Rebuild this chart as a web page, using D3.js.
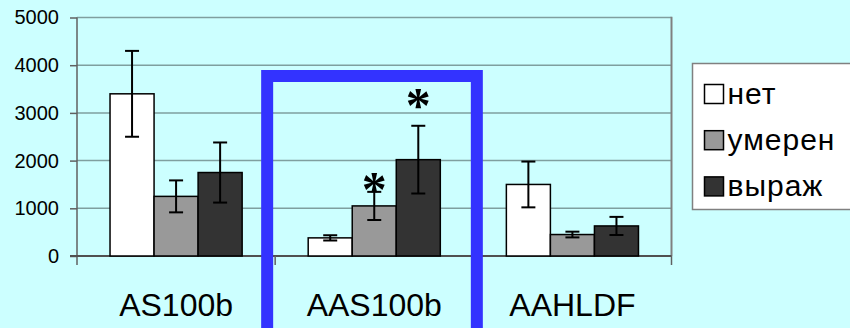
<!DOCTYPE html>
<html>
<head>
<meta charset="utf-8">
<script src="https://cdn.jsdelivr.net/npm/d3@7"></script>
<style>
  html, body { margin: 0; padding: 0; background: #CCFFFF; }
  svg { display: block; font-family: "Liberation Sans", Arial, sans-serif; }
</style>
</head>
<body>
<svg id="chart" width="850" height="328"></svg>
<script>
// Groups along the category axis
const categories = ["AS100b", "AAS100b", "AAHLDF"];
// Series names (legend order)
const seriesNames = ["нет", "умерен", "выраж"];
// Mean values per series, one entry per category
const netValues    = [3400, 380, 1500];
const umerenValues = [1250, 1050, 450];
const vyrazhValues = [1750, 2020, 630];
// Error half-widths per series
const netErrors    = [900, 55, 480];
const umerenErrors = [335, 295, 60];
const vyrazhErrors = [630, 710, 190];
// Y axis ticks
const yTicks = [0, 1000, 2000, 3000, 4000, 5000];
// Significance marks: category, series index, level in data units
const markCategory = ["AAS100b", "AAS100b"];
const markSeries   = [1, 2];
const markLevel    = [1570, 3320];

const seriesValues = [netValues, umerenValues, vyrazhValues];
const seriesErrors = [netErrors, umerenErrors, vyrazhErrors];
const fills = ["#FFFFFF", "#999999", "#333333"];

const svg = d3.select("#chart");
const plot = { left: 77, right: 671.5, top: 17.5, bottom: 256 };

const y = d3.scaleLinear().domain([0, 5000]).range([plot.bottom, plot.top]);
const x0 = d3.scaleBand().domain(categories).range([plot.left, plot.right]).padding(0);
const x1 = d3.scaleBand().domain(d3.range(seriesNames.length))
  .range([0, x0.bandwidth()]).paddingInner(0).paddingOuter(0.75);

// Plot-area background
svg.append("rect")
  .attr("x", plot.left).attr("y", plot.top)
  .attr("width", plot.right - plot.left).attr("height", plot.bottom - plot.top)
  .attr("fill", "#CCFFFF");

// Horizontal gridlines
svg.append("g").selectAll("line").data(yTicks.filter(d => d > 0)).join("line")
  .attr("x1", plot.left).attr("x2", plot.right)
  .attr("y1", d => y(d)).attr("y2", d => y(d))
  .attr("stroke", "#7f9f9f").attr("stroke-width", 1.5);

// Right edge of plot area
svg.append("line")
  .attr("x1", plot.right).attr("x2", plot.right)
  .attr("y1", plot.top - 0.75).attr("y2", plot.bottom)
  .attr("stroke", "#808080").attr("stroke-width", 2);

// Y axis
const yAxis = d3.axisLeft(y).tickValues(yTicks).tickSize(7).tickPadding(11).tickFormat(d3.format("d"));
const gy = svg.append("g").attr("transform", `translate(${plot.left},0)`).call(yAxis);
gy.select(".domain").attr("stroke", "#606060").attr("stroke-width", 1.5)
  .attr("d", `M0,${plot.top}V${plot.bottom + 9}`);
gy.selectAll(".tick line").attr("stroke", "#606060").attr("stroke-width", 1.5);
gy.selectAll(".tick text").attr("font-size", 20).attr("fill", "#000")
  .attr("font-family", "'Liberation Sans', Arial, sans-serif");

// Category axis with ticks at group boundaries
const xAxis = d3.axisBottom(x0).tickSize(0).tickPadding(37);
const gx = svg.append("g").attr("transform", `translate(0,${plot.bottom})`).call(xAxis);
gx.select(".domain").attr("stroke", "#505050").attr("stroke-width", 2)
  .attr("d", `M${plot.left - 7},0H${plot.right}`);
gx.selectAll(".tick text").attr("font-size", 32).attr("fill", "#000")
  .attr("font-family", "'Liberation Sans', Arial, sans-serif");
const boundaries = categories.slice(1).map(c => x0(c)).concat([plot.right]);
gx.append("g").selectAll("line").data(boundaries).join("line")
  .attr("x1", d => d).attr("x2", d => d).attr("y1", 0).attr("y2", 9)
  .attr("stroke", "#606060").attr("stroke-width", 1.5);

// Bars
const bars = [];
categories.forEach((c, ci) => {
  seriesNames.forEach((s, si) => {
    bars.push({ c, si, v: seriesValues[si][ci], e: seriesErrors[si][ci] });
  });
});
const gb = svg.append("g");
gb.selectAll("rect").data(bars).join("rect")
  .attr("x", d => x0(d.c) + x1(d.si))
  .attr("y", d => y(d.v))
  .attr("width", x1.bandwidth())
  .attr("height", d => y(0) - y(d.v))
  .attr("fill", d => fills[d.si])
  .attr("stroke", "#000").attr("stroke-width", 1.5);

// Error bars
const capW = 14;
const ge = svg.append("g").attr("stroke", "#000").attr("stroke-width", 2);
bars.forEach(d => {
  const cx = x0(d.c) + x1(d.si) + x1.bandwidth() / 2;
  const hi = y(d.v + d.e), lo = y(d.v - d.e);
  ge.append("line").attr("x1", cx).attr("x2", cx).attr("y1", hi).attr("y2", lo);
  ge.append("line").attr("x1", cx - capW / 2).attr("x2", cx + capW / 2).attr("y1", hi).attr("y2", hi);
  ge.append("line").attr("x1", cx - capW / 2).attr("x2", cx + capW / 2).attr("y1", lo).attr("y2", lo);
});

// Significance asterisks
svg.append("g").selectAll("text").data(markCategory.map((c, i) => ({ c, si: markSeries[i], lv: markLevel[i] })))
  .join("text")
  .attr("x", d => x0(d.c) + x1(d.si) + x1.bandwidth() / 2)
  .attr("y", d => y(d.lv) + 24.5)
  .attr("text-anchor", "middle")
  .attr("font-family", "'Liberation Serif', 'Times New Roman', serif")
  .attr("font-weight", "bold")
  .attr("font-size", 50)
  .attr("fill", "#000")
  .text("*");

// Highlight frame around the middle group
const mid = categories[1];
svg.append("rect")
  .attr("x", x0(mid) - 8).attr("y", 76)
  .attr("width", x0.bandwidth() + 11.5).attr("height", 280)
  .attr("fill", "none").attr("stroke", "#3333FF").attr("stroke-width", 12);

// Legend
const lg = svg.append("g");
lg.append("rect").attr("x", 692.5).attr("y", 63.5).attr("width", 170).attr("height", 146)
  .attr("fill", "#FFFFFF").attr("stroke", "#808080").attr("stroke-width", 1.5);
const items = lg.selectAll("g.item").data(seriesNames).join("g")
  .attr("class", "item")
  .attr("transform", (d, i) => `translate(704.5,${84.5 + i * 46.2})`);
items.append("rect").attr("width", 19).attr("height", 19)
  .attr("fill", (d, i) => fills[i]).attr("stroke", "#000").attr("stroke-width", 1.5);
items.append("text").attr("x", 23).attr("y", 19)
  .attr("font-size", 30).attr("letter-spacing", 1).attr("fill", "#000")
  .text(d => d);
</script>
</body>
</html>
